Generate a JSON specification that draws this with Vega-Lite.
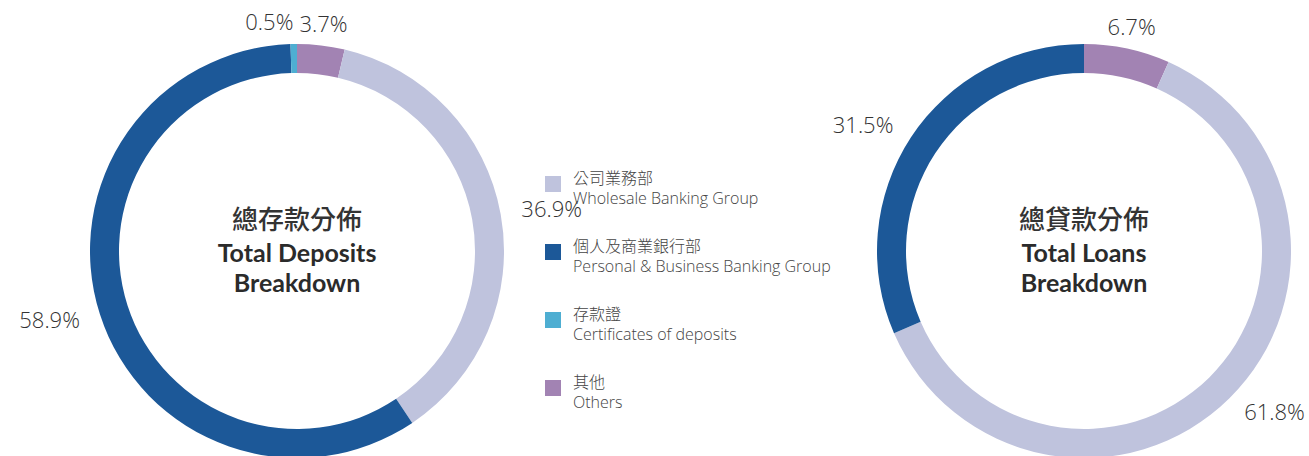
{
  "$schema": "https://vega.github.io/schema/vega-lite/v6.json",
  "padding": 0,
  "spacing": 265,
  "bounds": "flush",
  "background": "white",
  "config": {"view": {"stroke": null}, "font": "Open Sans", "style": {"guide-label": {"lineHeight": 20}}},
  "datasets": {
    "deposits": [
      {"group": "Others", "share": 0.037, "seq": 1},
      {"group": "Wholesale Banking Group", "share": 0.369, "seq": 2},
      {"group": "Personal & Business Banking Group", "share": 0.589, "seq": 3},
      {"group": "Certificates of deposits", "share": 0.005, "seq": 4}
    ],
    "loans": [
      {"group": "Others", "share": 0.067, "seq": 1},
      {"group": "Wholesale Banking Group", "share": 0.618, "seq": 2},
      {"group": "Personal & Business Banking Group", "share": 0.315, "seq": 3}
    ]
  },
  "hconcat": [
    {
      "width": 594,
      "height": 456,
      "data": {"name": "deposits"},
      "layer": [
        {
          "mark": {"type": "arc", "radius": 207, "innerRadius": 178, "yOffset": 23, "clip": true},
          "encoding": {
            "theta": {"field": "share", "type": "quantitative", "stack": true},
            "order": {"field": "seq", "type": "quantitative"},
            "color": {
              "field": "group", "type": "nominal",
              "scale": {
                "domain": ["Wholesale Banking Group", "Personal & Business Banking Group", "Certificates of deposits", "Others"],
                "range": ["#BFC3DD", "#1C5898", "#4EAED2", "#A283B3"]
              },
              "legend": {
                "orient": "none", "legendX": 545, "legendY": 176, "title": null,
                "symbolType": "square", "symbolSize": 256, "symbolStrokeWidth": 0,
                "labelFont": "Open Sans, Noto Sans CJK TC", "labelFontSize": 16, "labelFontWeight": 300, "labelColor": "#444444",
                "labelOffset": 12, "rowPadding": 32, "labelLimit": 400, "labelBaseline": "alphabetic",
                "labelExpr": "datum.label == 'Wholesale Banking Group' ? ['公司業務部', 'Wholesale Banking Group'] : datum.label == 'Personal & Business Banking Group' ? ['個人及商業銀行部', 'Personal & Business Banking Group'] : datum.label == 'Certificates of deposits' ? ['存款證', 'Certificates of deposits'] : ['其他', 'Others']"
              }
            }
          }
        },
        {
          "mark": {
            "type": "text", "radius": 228, "yOffset": 23, "fontSize": 22, "fontWeight": 300, "fill": "#333333", "font": "Open Sans",
            "align": {"expr": "datum.group == 'Others' ? 'center' : (datum.group == 'Wholesale Banking Group' ? 'left' : 'right')"}
          },
          "encoding": {
            "theta": {"field": "share", "type": "quantitative", "stack": true},
            "order": {"field": "seq", "type": "quantitative"},
            "text": {"field": "share", "type": "quantitative", "format": ".1%"}
          }
        },
        {
          "data": {"values": [{"zh": "總存款分佈", "en": "Total Deposits\nBreakdown"}]},
          "layer": [
            {
              "mark": {"type": "text", "yOffset": 23, "dy": -30, "fontSize": 26, "font": "Noto Sans CJK TC", "fontWeight": 500, "fill": "#333333", "baseline": "middle"},
              "encoding": {"text": {"field": "zh", "type": "nominal"}}
            },
            {
              "mark": {"type": "text", "yOffset": 23, "dy": -9, "fontSize": 25, "fontWeight": "bold", "font": "Lato", "fill": "#2b2b2b", "baseline": "top", "lineBreak": "\n", "lineHeight": 30},
              "encoding": {"text": {"field": "en", "type": "nominal"}}
            }
          ]
        }
      ]
    },
    {
      "width": 450,
      "height": 456,
      "data": {"name": "loans"},
      "layer": [
        {
          "mark": {"type": "arc", "radius": 207, "innerRadius": 178, "yOffset": 23, "clip": true},
          "encoding": {
            "theta": {"field": "share", "type": "quantitative", "stack": true},
            "order": {"field": "seq", "type": "quantitative"},
            "color": {
              "field": "group", "type": "nominal",
              "scale": {
                "domain": ["Wholesale Banking Group", "Personal & Business Banking Group", "Certificates of deposits", "Others"],
                "range": ["#BFC3DD", "#1C5898", "#4EAED2", "#A283B3"]
              },
              "legend": null
            }
          }
        },
        {
          "mark": {
            "type": "text", "radius": 228, "yOffset": 23, "fontSize": 22, "fontWeight": 300, "fill": "#333333", "font": "Open Sans",
            "align": {"expr": "datum.group == 'Others' ? 'center' : (datum.group == 'Wholesale Banking Group' ? 'left' : 'right')"}
          },
          "encoding": {
            "theta": {"field": "share", "type": "quantitative", "stack": true},
            "order": {"field": "seq", "type": "quantitative"},
            "text": {"field": "share", "type": "quantitative", "format": ".1%"}
          }
        },
        {
          "data": {"values": [{"zh": "總貸款分佈", "en": "Total Loans\nBreakdown"}]},
          "layer": [
            {
              "mark": {"type": "text", "yOffset": 23, "dy": -30, "fontSize": 26, "font": "Noto Sans CJK TC", "fontWeight": 500, "fill": "#333333", "baseline": "middle"},
              "encoding": {"text": {"field": "zh", "type": "nominal"}}
            },
            {
              "mark": {"type": "text", "yOffset": 23, "dy": -9, "fontSize": 25, "fontWeight": "bold", "font": "Lato", "fill": "#2b2b2b", "baseline": "top", "lineBreak": "\n", "lineHeight": 30},
              "encoding": {"text": {"field": "en", "type": "nominal"}}
            }
          ]
        }
      ]
    }
  ],
  "resolve": {"scale": {"color": "independent", "theta": "independent"}, "legend": {"color": "independent"}}
}
